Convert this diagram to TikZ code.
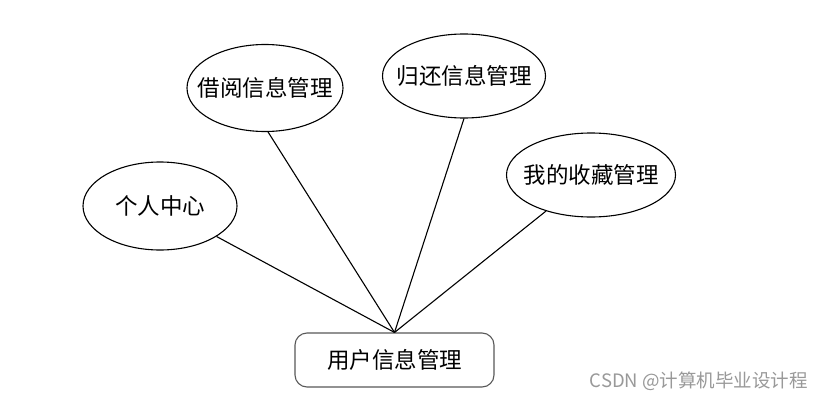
\documentclass[tikz,border=0pt]{standalone}
\usepackage{fontspec}
\setmainfont{Liberation Sans}
\newfontfamily\cjk{Noto Sans CJK SC}
\usetikzlibrary{shapes.geometric}
\begin{document}
\begin{tikzpicture}[x=1pt,y=-1pt,
  ell/.style={draw, line width=1.1pt, ellipse, inner sep=0pt},
  every label/.style={font=\cjk\fontsize{22.5}{22.5}\selectfont, inner sep=0pt},
  rbox/.style={draw=black!65, line width=1.1pt, rounded corners=12pt, minimum width=199pt, minimum height=54pt, inner sep=0pt, font=\cjk\fontsize{22.5}{22.5}\selectfont},
  conn/.style={line width=1.1pt}]
\fill[white] (0,0) rectangle (824,401);
\useasboundingbox (0,0) rectangle (824,401);
\node[ell, minimum width=154pt, minimum height=88pt, label={center:个人中心}] (geren) at (160,206) {};
\node[ell, minimum width=156pt, minimum height=87pt, label={center:借阅信息管理}] (jieyue) at (265,88) {};
\node[ell, minimum width=163pt, minimum height=84pt, label={center:归还信息管理}] (guihuan) at (464,76) {};
\node[ell, minimum width=169pt, minimum height=84pt, label={center:我的收藏管理}] (shoucang) at (591,175) {};
\node[rbox] (yonghu) at (394.5,360) {用户信息管理};
\draw[conn] (geren) -- (yonghu.north);
\draw[conn] (jieyue.-86) -- (yonghu.north);
\draw[conn] (guihuan.south) -- (yonghu.north);
\draw[conn] (shoucang) -- (yonghu.north);
\node[text=black!40, anchor=east, inner sep=0pt, font=\cjk\fontsize{18.5}{18.5}\selectfont] (wm) at (808,381) {CSDN @计算机毕业设计程};
\end{tikzpicture}
\end{document}
